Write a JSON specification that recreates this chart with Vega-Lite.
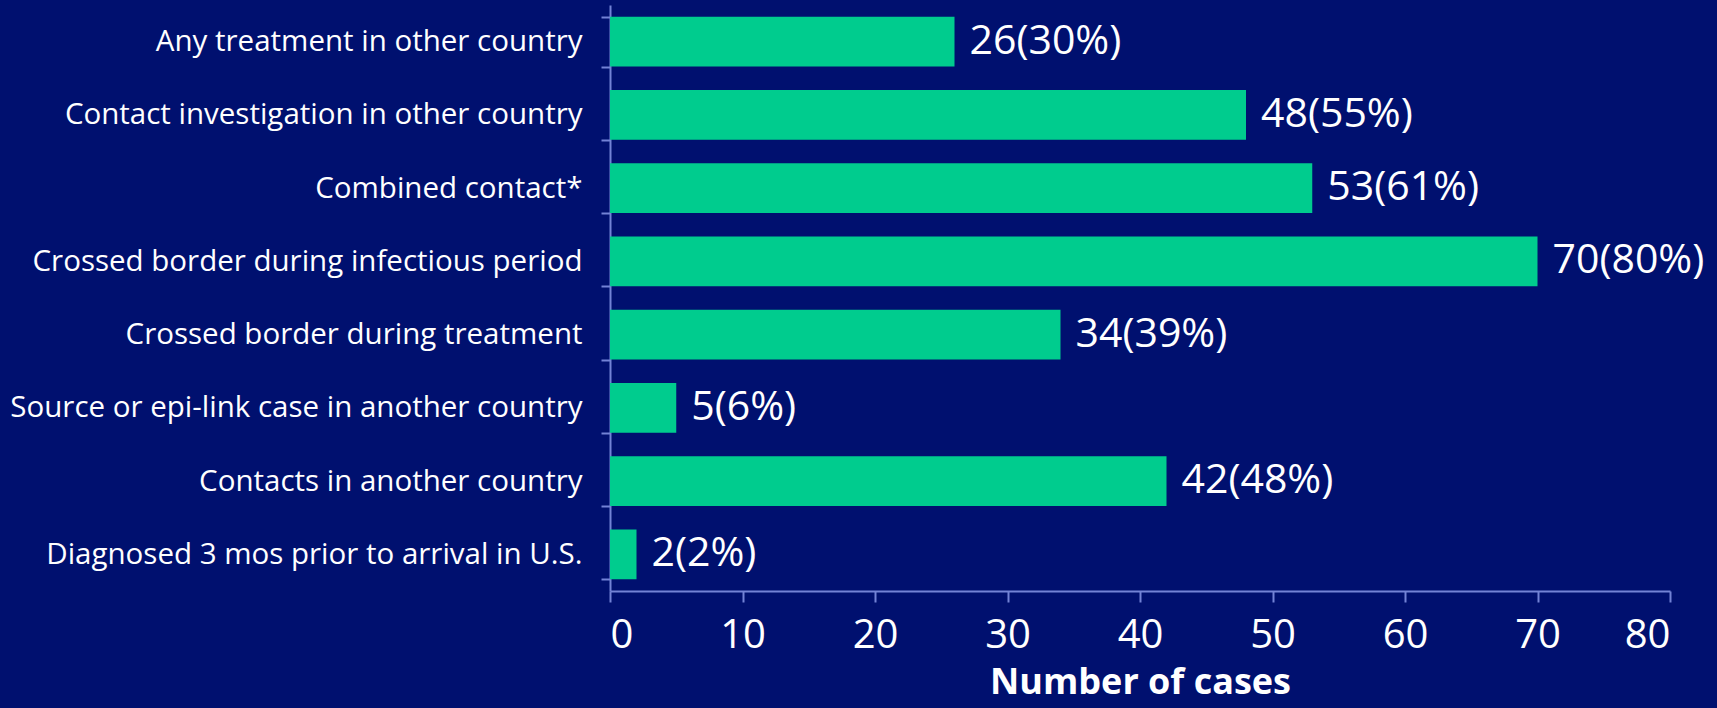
{
  "$schema": "https://vega.github.io/schema/vega-lite/v6.json",
  "autosize": "none",
  "width": 1060,
  "height": 586,
  "padding": {"left": 610, "top": 5, "right": 47, "bottom": 117},
  "background": "#00106F",
  "config": {"view": {"stroke": null}, "font": "Open Sans"},
  "data": {"values": [
    {"item": "Any treatment in other country", "n": 26, "label": "26(30%)"},
    {"item": "Contact investigation in other country", "n": 48, "label": "48(55%)"},
    {"item": "Combined contact*", "n": 53, "label": "53(61%)"},
    {"item": "Crossed border during infectious period", "n": 70, "label": "70(80%)"},
    {"item": "Crossed border during treatment", "n": 34, "label": "34(39%)"},
    {"item": "Source or epi-link case in another country", "n": 5, "label": "5(6%)"},
    {"item": "Contacts in another country", "n": 42, "label": "42(48%)"},
    {"item": "Diagnosed 3 mos prior to arrival in U.S.", "n": 2, "label": "2(2%)"}
  ]},
  "encoding": {
    "y": {"field": "item", "type": "nominal", "sort": null,
      "scale": {"paddingInner": 0.32, "paddingOuter": 0.16},
      "axis": {"title": null, "domainColor": "#7383D6", "tickColor": "#7383D6", "tickBand": "extent",
        "tickSize": 9, "domainWidth": 2, "tickWidth": 2, "labelColor": "white", "labelFontSize": 29.5,
        "labelPadding": 19, "labelLimit": 700}},
    "x": {"field": "n", "type": "quantitative",
      "scale": {"domain": [0, 80]},
      "axis": {"values": [0,10,20,30,40,50,60,70,80], "grid": false, "title": "Number of cases",
        "titleColor": "white", "titleFontSize": 36, "titleFontWeight": "bold", "titlePadding": 10,
        "domainColor": "#7383D6", "tickColor": "#7383D6", "tickSize": 11, "domainWidth": 2, "tickWidth": 2,
        "labelColor": "white", "labelFontSize": 40, "labelPadding": 13}}
  },
  "layer": [
    {"mark": {"type": "bar", "color": "#00CC8E"}},
    {"mark": {"type": "text", "align": "left", "dx": 15, "color": "white", "fontSize": 41},
     "encoding": {"text": {"field": "label"}}}
  ]
}
